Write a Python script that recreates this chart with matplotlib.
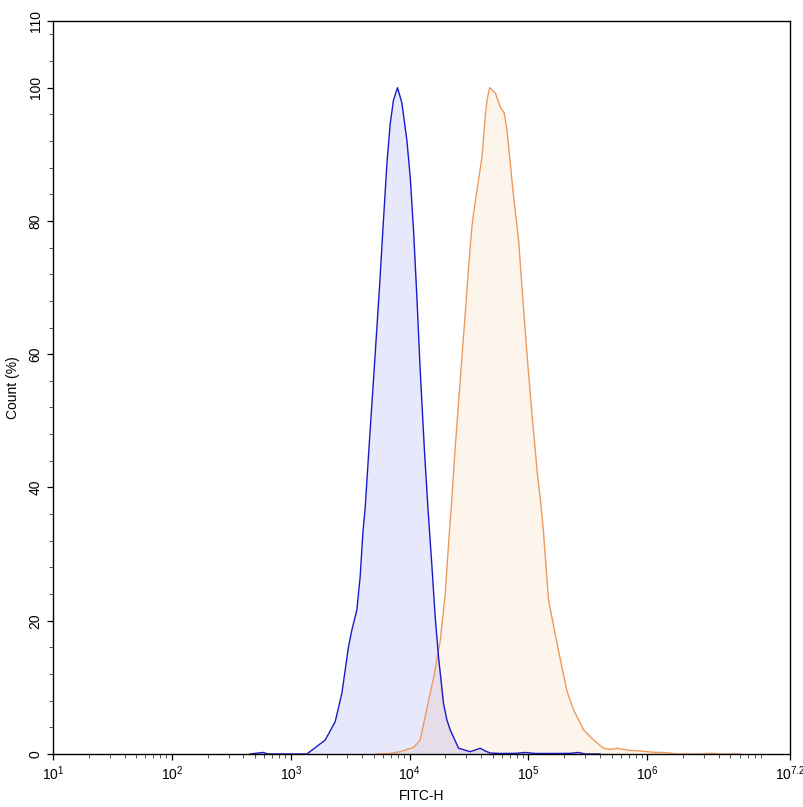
import numpy as np
import matplotlib
matplotlib.use("Agg")
import matplotlib.pyplot as plt
from matplotlib.ticker import FixedLocator, NullFormatter

plt.rcParams['font.family'] = ['Liberation Sans', 'DejaVu Sans']
plt.rcParams['mathtext.fontset'] = 'custom'
plt.rcParams['mathtext.rm'] = 'Liberation Sans'
plt.rcParams['mathtext.it'] = 'Liberation Sans'

# ---- data: FITC-H (log10 of intensity) and Count (%) ----
blue_log = [2.658, 2.726, 2.768, 2.810, 3.136, 3.290, 3.374, 3.430, 3.486, 3.514,
            3.556, 3.584, 3.607, 3.626, 3.660, 3.696, 3.747, 3.775, 3.809, 3.837,
            3.864, 3.898, 3.935, 3.977, 4.005, 4.033, 4.061, 4.089, 4.123, 4.154,
            4.188, 4.215, 4.243, 4.285, 4.314, 4.342, 4.412, 4.510, 4.552, 4.594,
            4.636, 4.678, 4.763, 4.889, 4.973, 5.057, 5.226, 5.352, 5.419, 5.478,
            5.604]
blue_pct = [0.0, 0.15, 0.23, 0.0, 0.0, 2.1, 4.85, 9.1, 16.1, 18.6,
            21.6, 26.6, 33.2, 36.9, 46.4, 56.1, 70.1, 78.6, 88.6, 94.6,
            98.1, 100.0, 97.7, 92.1, 86.6, 78.6, 68.6, 57.6, 46.1, 36.9,
            28.1, 20.6, 14.6, 7.6, 5.1, 3.6, 0.86, 0.35, 0.6, 0.86,
            0.45, 0.15, 0.08, 0.1, 0.23, 0.08, 0.08, 0.1, 0.23, 0.0,
            0.0]

orange_log = [3.725, 3.837, 3.921, 4.033, 4.089, 4.146, 4.201, 4.258, 4.300, 4.327,
              4.350, 4.384, 4.426, 4.468, 4.496, 4.524, 4.538, 4.567, 4.609, 4.636,
              4.651, 4.673, 4.721, 4.763, 4.796, 4.819, 4.847, 4.875, 4.917, 4.945,
              4.987, 5.029, 5.072, 5.108, 5.127, 5.169, 5.240, 5.324, 5.380, 5.464,
              5.548, 5.632, 5.689, 5.745, 5.798, 5.857, 5.941, 6.053, 6.166, 6.250,
              6.446, 6.502, 6.556, 6.614, 6.783]
orange_pct = [0.0, 0.08, 0.35, 0.98, 2.1, 6.9, 11.4, 17.1, 24.1, 31.3,
              36.9, 46.1, 56.1, 66.1, 73.1, 79.1, 81.1, 84.6, 89.6, 95.6,
              98.1, 100.0, 99.2, 97.1, 96.2, 93.6, 88.6, 83.6, 77.1, 70.1,
              60.1, 51.1, 42.6, 36.9, 33.1, 23.1, 16.6, 9.4, 6.6, 3.6,
              2.1, 0.86, 0.68, 0.86, 0.68, 0.53, 0.45, 0.26, 0.2, 0.0,
              0.0, 0.08, 0.1, 0.0, 0.0]

x_exponents = ['1', '2', '3', '4', '5', '6', '7.2']
x_tick_pos = [1, 2, 3, 4, 5, 6, 7.2]
y_ticks = [0, 20, 40, 60, 80, 100, 110]

# ---- figure ----
fig = plt.figure(figsize=(8.04, 8.07), dpi=100)
ax = fig.add_axes([53/804, 53/807, (790-53)/804, (754-21)/807])

bx = 10 ** np.array(blue_log)
ox = 10 ** np.array(orange_log)

ax.fill_between(ox, 0, orange_pct, color='#f59a4e', alpha=0.10, linewidth=0)
ax.fill_between(bx, 0, blue_pct, color='#0000e6', alpha=0.09, linewidth=0)
ax.plot(ox, orange_pct, color='#ee9a5e', lw=1.0)
ax.plot(bx, blue_pct, color='#1a1ac8', lw=1.0)

ax.set_xscale('log')
ax.set_xlim(10 ** 1, 10 ** 7.2)
ax.set_ylim(0, 110)

ax.xaxis.set_major_locator(FixedLocator([10 ** p for p in x_tick_pos]))
ax.set_xticklabels([r'$\mathregular{10^{%s}}$' % e for e in x_exponents])
minor = [m * 10 ** d for d in range(1, 7) for m in range(2, 10)]
ax.xaxis.set_minor_locator(FixedLocator(minor))
ax.xaxis.set_minor_formatter(NullFormatter())

ax.set_yticks(y_ticks)
ax.set_yticklabels([str(v) for v in y_ticks])
ax.yaxis.set_minor_locator(FixedLocator([v for v in range(0, 110, 4)]))

ax.tick_params(axis='both', which='major', length=4.5, width=0.9, labelsize=10, direction='out', color='black')
ax.tick_params(axis='both', which='minor', length=3, width=0.7, color='#555555')
ax.tick_params(axis='x', which='major', pad=3)
ax.tick_params(axis='y', which='major', pad=3)
for lab in ax.get_yticklabels():
    lab.set_rotation(90)
    lab.set_va('center')

for s in ax.spines.values():
    s.set_linewidth(1.0)

ax.set_xlabel('FITC-H', fontsize=10, labelpad=4)
ax.set_ylabel('Count (%)', fontsize=10, labelpad=6)

fig.savefig('out.png', dpi=100, facecolor='white')
